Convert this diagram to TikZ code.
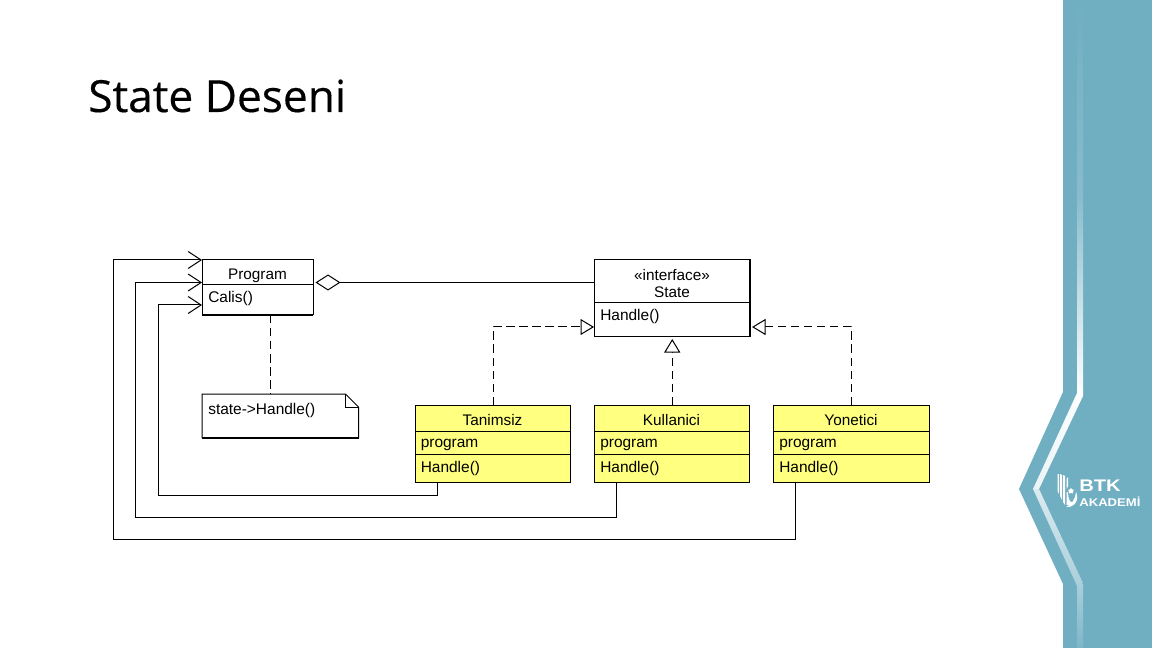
\documentclass[tikz,border=0pt]{standalone}
\usepackage{fontspec}
\setmainfont{Liberation Sans}
\newfontfamily\titlefont[FakeBold=0.35]{Open Sans}
\usetikzlibrary{arrows.meta,shapes.geometric}
\definecolor{side}{RGB}{112,174,194}
\definecolor{sideb}{RGB}{126,182,200}
\definecolor{notey}{RGB}{255,255,128}
\def\px{0.75pt}
\tikzset{
  umlbox/.style={draw=black,line width=1*\px,outer sep=0pt,inner sep=0pt,anchor=north west},
  yellowbox/.style={umlbox,fill=notey,minimum width=155.5*\px,minimum height=77*\px},
  centerlabel/.style={font=\fontsize{11.5pt}{13pt}\selectfont,text=black,inner sep=0pt,anchor=center},
  leftlabel/.style={font=\fontsize{11.6pt}{13pt}\selectfont,text=black,inner sep=0pt,anchor=west},
  divider/.style={line width=1*\px},
  edge/.style={line width=1*\px,black},
  solidline/.style={edge,line cap=butt},
  dashline/.style={edge,dash pattern=on 8.5*\px off 4.5*\px},
  openhead/.style={-{Straight Barb[length=13*\px,width=17*\px,line width=1*\px]}},
  realize/.style={-{Triangle[open,fill=white,length=13.5*\px,width=16*\px,line width=1*\px]}},
  aggregate/.style={{Diamond[open,fill=white,length=25*\px,width=16*\px,line width=1*\px]}-},
  heavy/.style={line width=2*\px,line cap=butt},
}
\begin{document}
\begin{tikzpicture}[x=0.75pt,y=-0.75pt]
\useasboundingbox (0,0) rectangle (1152,648);
\fill[white] (0,0) rectangle (1152,648);
% sidebar
\fill[side] (1152,0) -- (1063,0) -- (1063,392) -- (1019,489) -- (1063,584) -- (1063,648) -- (1152,648) -- cycle;
\shade[top color=side,bottom color=white,middle color=sideb!92!white]
  (1077,0) rectangle (1083,395);
\shade[left color=white!85!side,right color=white] (1077,393) -- (1083,396) -- (1039,489) -- (1033,489) -- cycle;
\shade[top color=white!75!side,bottom color=side!60!white] (1033,489) -- (1039,489) -- (1083,583) -- (1077,586) -- cycle;
\shade[top color=side!60!white,bottom color=sideb] (1077,584) rectangle (1083,648);
% logo
\fill[white] (1057.5,474) -- (1059,474) -- (1059,494) -- (1057.5,491) -- cycle;
\fill[white] (1060,474) -- (1062,475) -- (1062,500) -- (1060,496) -- cycle;
\fill[white] (1063,475) -- (1065,476) -- (1065,505) -- (1063,502) -- cycle;
\fill[white] (1066.5,479) -- (1068,477) -- (1068,486) -- (1066.5,489) -- cycle;
\fill[white] (1076,492) .. controls (1080,500) and (1074,508) .. (1066,507) .. controls (1071,505) and (1075,500) .. (1076,492) -- cycle;
\fill[white] (1066.5,492) -- (1068,492) .. controls (1068,499) and (1070,503) .. (1073,502) .. controls (1071,505) and (1068,506) .. (1066.5,505) -- cycle;
\node[star,star points=5,fill=white,minimum size=6*\px,inner sep=0pt] (logostar) at (1071,491) {};
\node[font=\fontsize{12.6pt}{13pt}\selectfont\bfseries,text=white,inner sep=0pt,anchor=base west,xscale=1.2,transform shape] (logobtk) at (1079,491) {BTK};
\node[font=\fontsize{8.4pt}{9pt}\selectfont\bfseries,text=white,inner sep=0pt,anchor=base west,xscale=1.17,transform shape] (logoak) at (1079,506.5) {AKADEMİ};
% title
\node[font=\titlefont\fontsize{33.2pt}{36pt}\selectfont,text=black,inner sep=0pt,anchor=base west] (title) at (88,112) {State Deseni};
% Program
\node[umlbox,fill=white,minimum width=111*\px,minimum height=55*\px] (prog) at (202,260) {};
\draw[divider] (202,285) -- (313,285);
\draw[heavy] (prog.south west) -- (prog.south east);
\node[centerlabel] (progname) at (257.5,275.5) {Program};
\node[leftlabel] (progop) at (208,298.5) {Calis()};
% State
\node[umlbox,fill=white,minimum width=156*\px,minimum height=77*\px] (state) at (594,260) {};
\draw[divider] (594,303) -- (750,303);
\draw[heavy] (state.north east) -- (state.south east);
\node[centerlabel] (stateste) at (672,275) {«interface»};
\node[centerlabel] (statename) at (672,292) {State};
\node[leftlabel] (stateop) at (600,316.5) {Handle()};
% Tanimsiz
\node[yellowbox] (tan) at (415,405) {};
\draw[divider] (415,431) -- (570.5,431);
\draw[divider] (415,454) -- (570.5,454);
\node[centerlabel] (tanname) at (492.5,420) {Tanimsiz};
\node[leftlabel] (tanattr) at (420.5,445) {program};
\node[leftlabel] (tanop) at (420.5,468.5) {Handle()};
% Kullanici
\node[yellowbox] (kul) at (594,405) {};
\draw[divider] (594,431) -- (749.5,431);
\draw[divider] (594,454) -- (749.5,454);
\node[centerlabel] (kulname) at (671.5,420) {Kullanici};
\node[leftlabel] (kulattr) at (600,445) {program};
\node[leftlabel] (kulop) at (600,468.5) {Handle()};
% Yonetici
\node[yellowbox,minimum width=156*\px] (yon) at (773,405) {};
\draw[divider] (773,431) -- (929,431);
\draw[divider] (773,454) -- (929,454);
\node[centerlabel] (yonname) at (851,420) {Yonetici};
\node[leftlabel] (yonattr) at (779,445) {program};
\node[leftlabel] (yonop) at (779,468.5) {Handle()};
% Note
\node[minimum width=156.5*\px,minimum height=43.5*\px,inner sep=0pt,outer sep=0pt,anchor=north west] (note) at (202,394) {};
\draw[edge,fill=white,line join=miter] (note.north west) -- ([xshift=-13*\px]note.north east) -- ([yshift=-13*\px]note.north east) -- (note.south east) -- (note.south west) -- cycle;
\draw[edge] ([xshift=-13*\px]note.north east) -- ([xshift=-13*\px,yshift=-13*\px]note.north east) -- ([yshift=-13*\px]note.north east);
\draw[heavy] (note.south west) -- (note.south east);
\node[leftlabel] (notetext) at (208,410.5) {state->Handle()};
% connectors
\coordinate (pnote) at ([xshift=12.5*\px]prog.south);
\draw[dashline] (pnote) -- (pnote |- note.north);
\draw[solidline,aggregate] ([xshift=2.5*\px,yshift=-22.5*\px]prog.north east) -- ([yshift=-22.5*\px]state.north west);
\coordinate (c1) at (158,495);
\coordinate (c2) at (135,517);
\coordinate (c3) at (113,539);
\draw[solidline,openhead] ([xshift=22.5*\px]tan.south west) |- (c1) |- ([yshift=-45*\px]prog.north west);
\draw[solidline,openhead] ([xshift=22*\px]kul.south west) |- (c2) |- ([yshift=-22.5*\px]prog.north west);
\draw[solidline,openhead] ([xshift=22*\px]yon.south west) |- (c3) |- (prog.north west);
\draw[dashline,realize] ([xshift=78*\px]tan.north west) |- ([yshift=-67*\px]state.north west);
\draw[dashline,realize] (yon.north) |- ([xshift=2*\px,yshift=-67*\px]state.north east);
\coordinate (kt) at ([xshift=0.5*\px]kul.north);
\coordinate (st) at ([yshift=-2*\px]state.south);
\draw[dashline,realize] (kt) -- (kt |- st);
\end{tikzpicture}
\end{document}
